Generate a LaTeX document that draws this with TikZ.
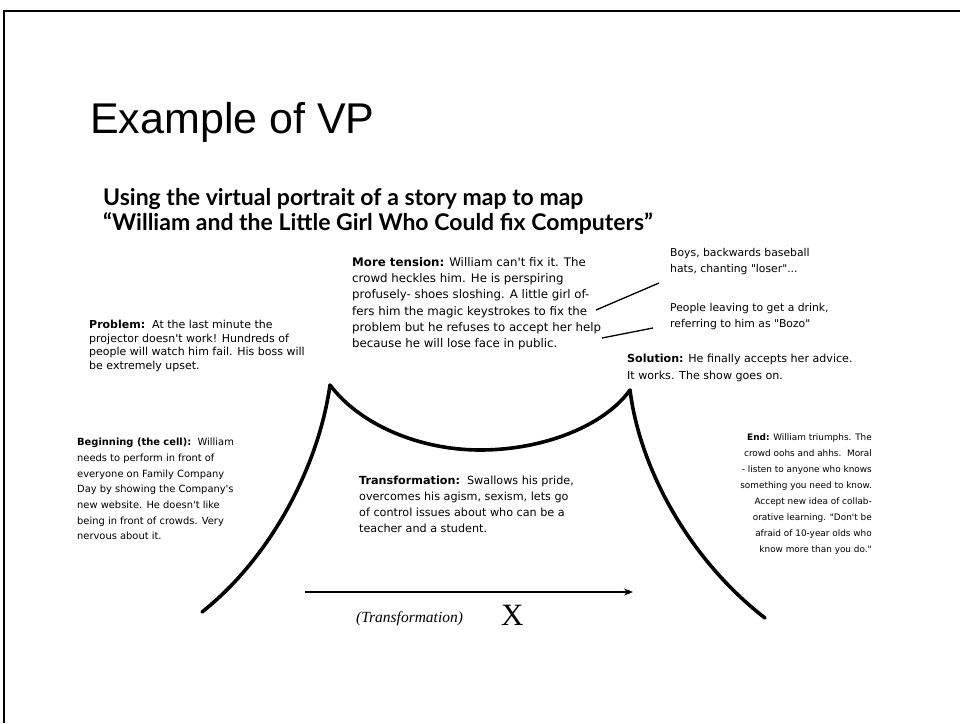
\documentclass[tikz,border=0pt]{standalone}
\usepackage{fontspec}
\setmainfont{DejaVu Sans}
\newfontfamily\notefont{DejaVu Sans}
\newfontfamily\titlefont{Liberation Sans}
\newfontfamily\subfont{Lato}
\newfontfamily\serifit{Liberation Serif}
\usetikzlibrary{arrows.meta}
\tikzset{
  note/.style 2 args={anchor=north west, inner sep=0pt, align=left, font=\notefont\fontsize{#1}{#2}\selectfont},
  noteR/.style 2 args={anchor=north east, inner sep=0pt, align=right, font=\notefont\fontsize{#1}{#2}\selectfont},
  story/.style={line width=3.6pt, line cap=round, line join=round},
  leader/.style={line width=1.3pt},
}
\begin{document}
\begin{tikzpicture}[x=1pt,y=-1pt]
\useasboundingbox (0,0) rectangle (960,723);
% frame
\draw[line width=2pt] (4,723) -- (4,11) -- (960,11);
% title
\node[anchor=base west, inner sep=0pt, font=\titlefont\fontsize{43}{43}\selectfont] (title) at (90,133) {Example of VP};
\node[anchor=base west, inner sep=0pt, align=left, font=\subfont\bfseries\fontsize{23}{25}\selectfont] (sub) at (103,230)
  {Using the virtual portrait of a story map to map\\“William and the Little Girl Who Could fix Computers”};
% text blocks
\node[note={11}{13.7}] (problem) at (89,320) {\textbf{Problem:}\ \ At the last minute the\\projector doesn't work! Hundreds of\\people will watch him fail. His boss will\\be extremely upset.};
\node[note={11.8}{16.3}] (tension) at (352,257) {\textbf{More tension:} William can't fix it. The\\crowd heckles him. He is perspiring\\profusely- shoes sloshing. A little girl of-\\fers him the magic keystrokes to fix the\\problem but he refuses to accept her help\\because he will lose face in public.};
\node[note={10.8}{16.5}] (boys) at (670,248) {Boys, backwards baseball\\hats, chanting "loser"...};
\node[note={10.8}{16.5}] (people) at (670,303) {People leaving to get a drink,\\referring to him as "Bozo"};
\node[note={11.1}{16.5}] (solution) at (627,354) {\textbf{Solution:} He finally accepts her advice.\\It works. The show goes on.};
\node[note={9.9}{15.7}] (begin) at (77,438) {\textbf{Beginning (the cell):}\ \ William\\needs to perform in front of\\everyone on Family Company\\Day by showing the Company's\\new website. He doesn't like\\being in front of crowds. Very\\nervous about it.};
\node[note={11.2}{16}] (transf) at (359,476) {\textbf{Transformation:}\ \ Swallows his pride,\\overcomes his agism, sexism, lets go\\of control issues about who can be a\\teacher and a student.};
\node[noteR={8.9}{16}] (end) at (872,434) {\textbf{End:} William triumphs. The\\crowd oohs and ahhs.\ \ Moral\\- listen to anyone who knows\\something you need to know.\\Accept new idea of collab-\\orative learning. "Don't be\\afraid of 10-year olds who\\know more than you do."};
% leaders
\coordinate (l1a) at (596,310);
\coordinate (l1b) at (659,283);
\coordinate (l2a) at (602,338);
\coordinate (l2b) at (653,328);
\draw[leader] (l1a) -- (l1b);
\draw[leader] (l2a) -- (l2b);
% story curve
\coordinate (bl) at (202,612);
\coordinate (pk1) at (330,385);
\coordinate (dip) at (480,450);
\coordinate (pk2) at (630,390);
\coordinate (br) at (765,618);
\draw[story] (bl) .. controls (268,560) and (318,470) .. (pk1)
  .. controls (360,425) and (420,450) .. (dip)
  .. controls (545,450) and (605,425) .. (pk2)
  .. controls (640,470) and (690,560) .. (br);
% axis arrow
\coordinate (ax1) at (305,592);
\coordinate (ax2) at (633,592);
\draw[line width=2.4pt, -{Stealth[length=9pt,width=7pt]}] (ax1) -- (ax2);
\node[anchor=base west, inner sep=0pt, font=\serifit\itshape\fontsize{15.5}{15.5}\selectfont] (tlabel) at (356,622) {(Transformation)};
\node[anchor=base west, inner sep=0pt, font=\serifit\fontsize{31}{31}\selectfont] (xlabel) at (501,625) {X};
\end{tikzpicture}
\end{document}
